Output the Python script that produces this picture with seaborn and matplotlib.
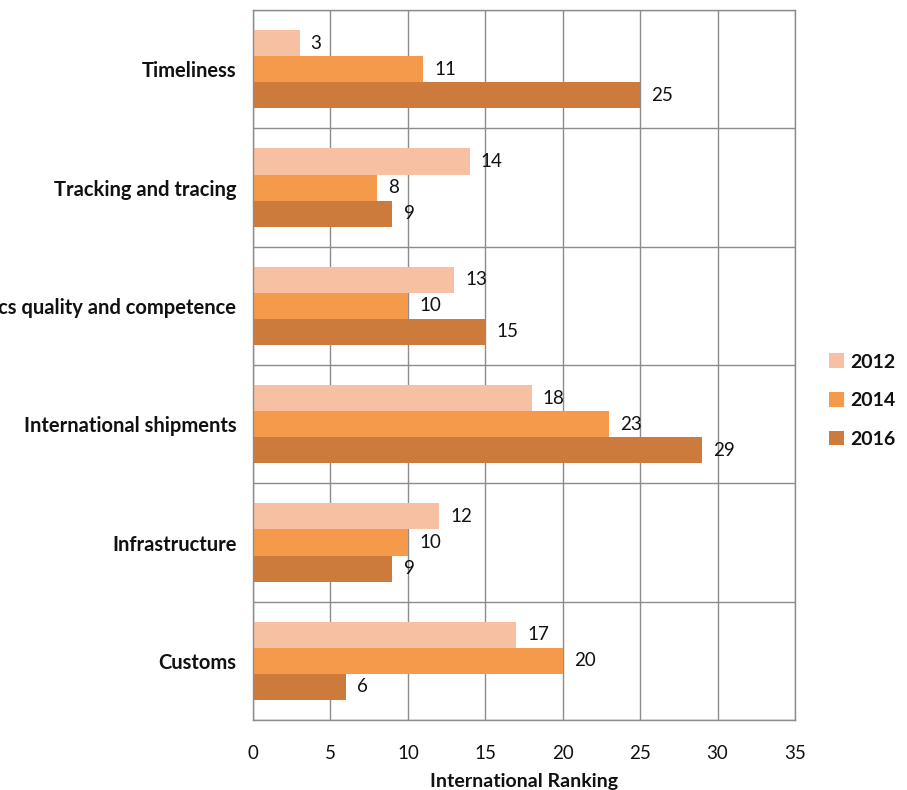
import matplotlib
matplotlib.use("Agg")
import matplotlib.pyplot as plt
import seaborn as sns
import pandas as pd
import numpy as np
from matplotlib.ticker import FixedLocator, MultipleLocator

categories = ["Timeliness", "Tracking and tracing", "Logistics quality and competence",
              "International shipments", "Infrastructure", "Customs"]
years = ["2012", "2014", "2016"]
v2012 = [3, 14, 13, 18, 12, 17]
v2014 = [11, 8, 10, 23, 10, 20]
v2016 = [25, 9, 15, 29, 9, 6]
colors = ["#F8C0A2", "#F5994A", "#CD7B3C"]

rows = []
for yr, vals in zip(years, [v2012, v2014, v2016]):
    for c, v in zip(categories, vals):
        rows.append({"Category": c, "Year": yr, "Value": v})
df = pd.DataFrame(rows)

sns.set_theme(style="white")
plt.rcParams['font.family'] = ['Lato', 'DejaVu Sans']

fig = plt.figure(figsize=(9.07, 7.9), dpi=100)
ax = fig.add_axes([0.279, 0.0886, 0.5975, 0.8987])

sns.barplot(data=df, y="Category", x="Value", hue="Year", order=categories,
            hue_order=years, palette=colors, orient="h", width=0.66,
            saturation=1, ax=ax, legend=True, linewidth=0, edgecolor="none")

for cont in ax.containers:
    ax.bar_label(cont, padding=8, fontsize=13.5, color="#111111")

ax.set_xlim(0, 35)
ax.set_ylim(5.5, -0.5)
ax.xaxis.set_major_locator(MultipleLocator(5))
ax.set_yticks(range(len(categories)))
ax.set_yticklabels(categories, fontsize=14.5, color="#111111", fontweight="bold")
ax.yaxis.set_minor_locator(FixedLocator(np.arange(-0.5, 6.0, 1.0)))
ax.tick_params(axis="y", which="major", length=0, pad=12)
ax.tick_params(axis="y", which="minor", length=10, color="#8c8c8c", width=1)
ax.tick_params(axis="x", which="major", length=8, color="#8c8c8c", width=1,
               labelsize=13.5, labelcolor="#111111", pad=10)
ax.grid(axis="x", which="major", color="#8c8c8c", linewidth=1)
ax.grid(axis="y", which="minor", color="#8c8c8c", linewidth=1)
ax.grid(axis="y", which="major", visible=False)
ax.set_axisbelow(True)
for s in ax.spines.values():
    s.set_color("#8c8c8c")
    s.set_linewidth(1)
ax.set_ylabel("")
ax.set_xlabel("International Ranking", fontsize=14, fontweight="bold",
              color="#111111", labelpad=8)

leg = ax.legend(loc="center left", bbox_to_anchor=(1.03, 0.45), frameon=False,
                fontsize=14, handlelength=0.8, handleheight=0.8,
                handletextpad=0.3, labelspacing=1.1)
for t in leg.get_texts():
    t.set_fontweight("bold")
    t.set_color("#111111")

fig.savefig("out.png", dpi=100)
